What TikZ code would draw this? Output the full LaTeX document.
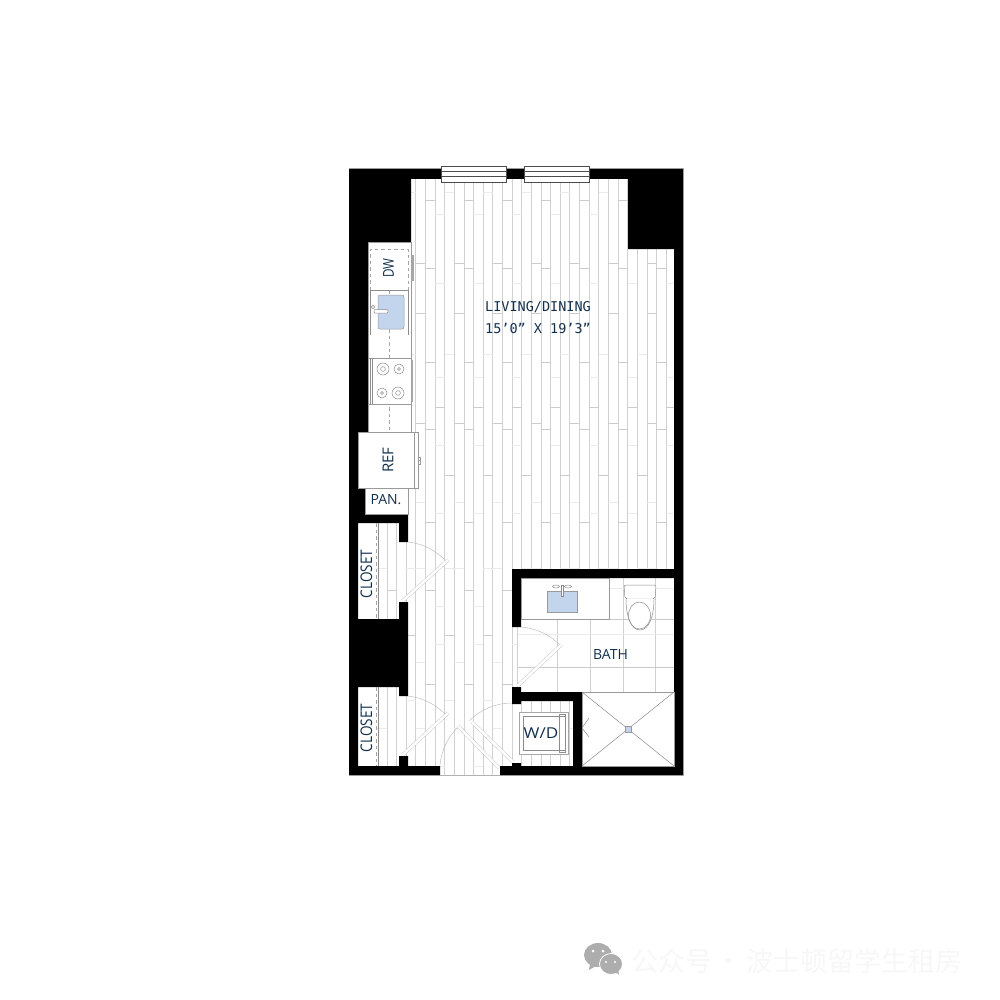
\documentclass[tikz,border=0pt]{standalone}
\usepackage{fontspec}
\setmainfont{Open Sans}
\newfontfamily\planmono{DejaVu Sans Mono}
\newfontfamily\cjk{Noto Sans CJK SC}
\definecolor{navytext}{HTML}{12304E}
\definecolor{sinkblue}{HTML}{C3D5EC}
\tikzstyle{wall} = [fill=black]
\tikzstyle{plank} = [draw=black!18, line width=0.6pt]
\tikzstyle{jointdark} = [draw=black!20, line width=0.6pt]
\tikzstyle{jointlight} = [draw=black!8, line width=1pt]
\tikzstyle{fixture} = [draw=black!40, fill=white, line width=0.6pt]
\tikzstyle{thinline} = [draw=black!45, line width=0.5pt]
\tikzstyle{dashline} = [draw=black!35, line width=0.5pt, dash pattern=on 3.5pt off 3pt]
\tikzstyle{basin} = [draw=black!40, fill=sinkblue, line width=0.5pt, rounded corners=1pt]
\tikzstyle{windowbox} = [draw=black!70, fill=white, line width=0.7pt]
\tikzstyle{doorarc} = [draw=black!25, line width=0.5pt]
\tikzstyle{doorleaf} = [draw=black!25, line width=0.4pt, double=white, double distance=2.6pt]
\tikzstyle{roomtext} = [text=navytext, inner sep=0pt, font=\fontsize{14}{14}\selectfont]
\tikzstyle{monotext} = [text=navytext, inner sep=0pt, font=\fontsize{13.5}{13.5}\selectfont\planmono]
\newcommand{\plankjoints}[3]{%
  \foreach \c in {#1} {
    \foreach \y in {#2} \draw[jointdark] ({415.7+9.63*\c},\y) -- ++(9.63,0);
    \foreach \y in {#3} \draw[jointlight] ({415.7+9.63*\c},\y) -- ++(9.63,0);
  }}
\begin{document}
\begin{tikzpicture}[x=1pt, y=-1pt]
    \useasboundingbox (0,0) rectangle (1000,1000);
    % Floor planks
    \foreach \c in {-3,...,26}
        \draw[plank] ({415.7+9.63*\c},179) -- ({415.7+9.63*\c},775);
    \plankjoints{-4,0,4,8,12,16,20,24}{263,313,423}{502,568,662,728}
    \plankjoints{-3,1,5,9,13,17,21,25}{200,268,362,429,522,590,684}{}
    \plankjoints{-2,2,6,10,14,18,22,26}{407}{215,283,377,445,513,606,644,766}
    \plankjoints{-1,3,7,11,15,19,23}{475,635}{193,354,568,700}
    \draw[draw=black!18, line width=1pt] (440,775) -- (500,775);
    % Bath floor
    \fill[white] (517,578) rectangle (674,692);
    \foreach \x in {557,590,623,655}
        \draw[plank] (\x,578) -- (\x,692);
    \foreach \y in {588,634}
        \draw[jointlight] (517,\y) -- (674,\y);
    \foreach \y in {619,667}
        \draw[jointdark] (517,\y) -- (674,\y);
    \draw[plank, line width=1pt] (517,627) -- (517,687);
    % Walls
    \draw[draw=black!30, line width=1pt] (349,169) rectangle (683,775);
    \path[wall] (349,169) rectangle (683,179)
        (349,169) rectangle (411,242)
        (349,242) rectangle (368,432)
        (349,432) rectangle (358,523)
        (349,488) rectangle (365,514)
        (349,514) rectangle (408,523)
        (399,523) rectangle (408,542)
        (399,602) rectangle (408,619)
        (349,523) rectangle (358,775)
        (349,619) rectangle (408,687)
        (399,687) rectangle (408,696)
        (399,756) rectangle (408,766)
        (349,766) rectangle (440,775)
        (500,766) rectangle (683,775)
        (628,169) rectangle (683,249)
        (674,249) rectangle (683,775)
        (512,569) rectangle (683,578)
        (512,569) rectangle (521,627)
        (512,687) rectangle (521,704)
        (512,692) rectangle (582,701)
        (573,692) rectangle (582,766)
        (512,763) rectangle (521,766);
    % Windows
    \foreach \x in {441,524} {
        \draw[windowbox] (\x,166) rectangle ++(65,16);
        \draw[thinline, draw=black!70] (\x,171.5) -- ++(65,0) (\x,176.5) -- ++(65,0);
    }
    % Kitchen
    \draw[fixture] (368,242) rectangle (411,432);
    \draw[dashline] (370,290) -- (370,249) -- (408,249) -- (408,290);
    \draw[dashline] (389,290) -- (389,432);
    \fill[black!35] (411,255) rectangle (413.5,281);
    \draw[thinline] (370.5,335) -- (370.5,290) -- (408,290) -- (408,335);
    \draw[basin, rounded corners=2pt] (378,295) rectangle (404,329);
    \draw[thinline, rounded corners=1pt, fill=white] (374,309.5) -- (388,309.5) -- (388,313) -- (374,313) -- cycle;
    \draw[thinline, fill=white] (373,307) circle (1.8);
    \draw[fixture] (368,358) rectangle (411,404);
    \draw[thinline] (370.5,358) -- (370.5,404) (372.5,358) -- (372.5,404);
    \draw[thinline] (383,369) circle (6) (383,369) circle (2.4);
    \draw[thinline] (399,369) circle (5) (399,369) circle (1.5);
    \draw[thinline] (382,393) circle (5) (382,393) circle (1.5);
    \draw[thinline] (398,393) circle (6) (398,393) circle (2.4);
    \fill[black!35] (411,360) rectangle (412.5,402);
    \draw[fixture] (414,432) rectangle (418,488);
    \draw[fixture] (418,457) rectangle (420,460.5) (418,460.5) rectangle (420,464);
    \draw[fixture] (358,432) rectangle (414,488);
    \draw[fixture] (365,488) rectangle (408,514);
    % Closets
    \draw[dashline] (376,523) -- (376,619);
    \draw[thinline] (378.7,523) -- (378.7,619);
    \draw[dashline] (376,687) -- (376,766);
    \draw[thinline] (378.7,687) -- (378.7,766);
    % Doors
    \draw[doorarc] (408,542) arc[start angle=-84, end angle=-41, radius=60];
    \draw[doorleaf] (402.5,601) -- (448,560);
    \draw[doorarc] (408,696) arc[start angle=-84, end angle=-41, radius=60];
    \draw[doorleaf] (402.5,755) -- (448,713);
    \draw[doorarc] (440,765) arc[start angle=-175, end angle=-133, radius=60];
    \draw[doorleaf] (458,726) -- (499,768);
    \draw[doorarc] (512,703) arc[start angle=-90, end angle=-135, radius=60];
    \draw[doorleaf] (472,722) -- (513,762);
    \draw[doorarc] (521,627) arc[start angle=-86, end angle=-43, radius=60];
    \draw[doorleaf] (517.5,686) -- (561,645);
    % Bath fixtures
    \draw[fixture] (521,578) rectangle (609,619);
    \draw[basin, rounded corners=0pt] (547,591) rectangle (577,612);
    \draw[thinline, fill=white] (556,586.5) ellipse (3.5 and 1.5) (568,586.5) ellipse (3.5 and 1.5);
    \draw[thinline, fill=white] (561,585) rectangle (563,596);
    \draw[thinline, fill=white, rounded corners=2pt] (624,585) -- (656,585) -- (655,599) -- (625,599) -- cycle;
    \draw[thinline, fill=white] (626,599) .. controls (626,616) and (631,630) .. (640,630) .. controls (649,630) and (654,616) .. (654,599);
    \draw[thinline] (639.5,615.5) ellipse (11 and 13.5);
    % Shower
    \draw[fixture] (582,692) rectangle (674,766);
    \draw[thinline] (582,692) -- (674,766) (674,692) -- (582,766);
    \draw[thinline] (589,718) -- (582,728) -- (589,737);
    \draw[basin, rounded corners=0pt] (625,726) rectangle (631,732);
    % Washer and dryer
    \draw[fixture, draw=black!35, line width=0.9pt] (519,712) rectangle (568,754);
    \draw[thinline] (523,716) rectangle (565,750);
    \draw[thinline] (559,714) -- (565,714) -- (565,752) -- (559,752) -- cycle;
    % Labels
    \node[monotext] (livingname) at (538,307.5) {LIVING/DINING};
    \node[monotext] (livingsize) at (538,328) {15’0” X 19’3”};
    \node[roomtext, rotate=90] (dwname) at (388.5,268) {\addfontfeature{FakeStretch=0.78}\fontsize{15}{15}\selectfont DW};
    \node[roomtext, rotate=90] (refname) at (388,460) {\fontsize{15}{15}\selectfont REF};
    \node[roomtext] (panname) at (386,500) {PAN.};
    \node[roomtext, rotate=90] (closetupper) at (366.5,574) {\addfontfeature{FakeStretch=0.85}\fontsize{16}{16}\selectfont CLOSET};
    \node[roomtext, rotate=90] (closetlower) at (366.5,728) {\addfontfeature{FakeStretch=0.85}\fontsize{16}{16}\selectfont CLOSET};
    \node[roomtext] (wdname) at (541,733) {\addfontfeature{FakeStretch=1.14}\fontsize{15}{15}\selectfont W/D};
    \node[roomtext] (bathname) at (610.5,654.5) {BATH};
    % Watermark
    \fill[black!32] (598,955) ellipse (14 and 12);
    \fill[black!32] (590,964) -- (589,970) -- (596,966) -- cycle;
    \draw[fill=black!32, draw=white, line width=0.8pt] (611,964) ellipse (11.5 and 10.5);
    \fill[black!32] (615,972) -- (619,974.5) -- (618,969) -- cycle;
    \fill[white] (593,951) circle (1.5) (603,951) circle (1.5) (606,962) circle (1.2) (615,962) circle (1.2);
    \node[inner sep=0pt, anchor=west, text=black!3, font=\fontsize{27}{27}\selectfont\cjk] (mark) at (631,961) {公众号\hspace{3.5pt}·\hspace{3.5pt}波士顿留学生租房};
\end{tikzpicture}
\end{document}
